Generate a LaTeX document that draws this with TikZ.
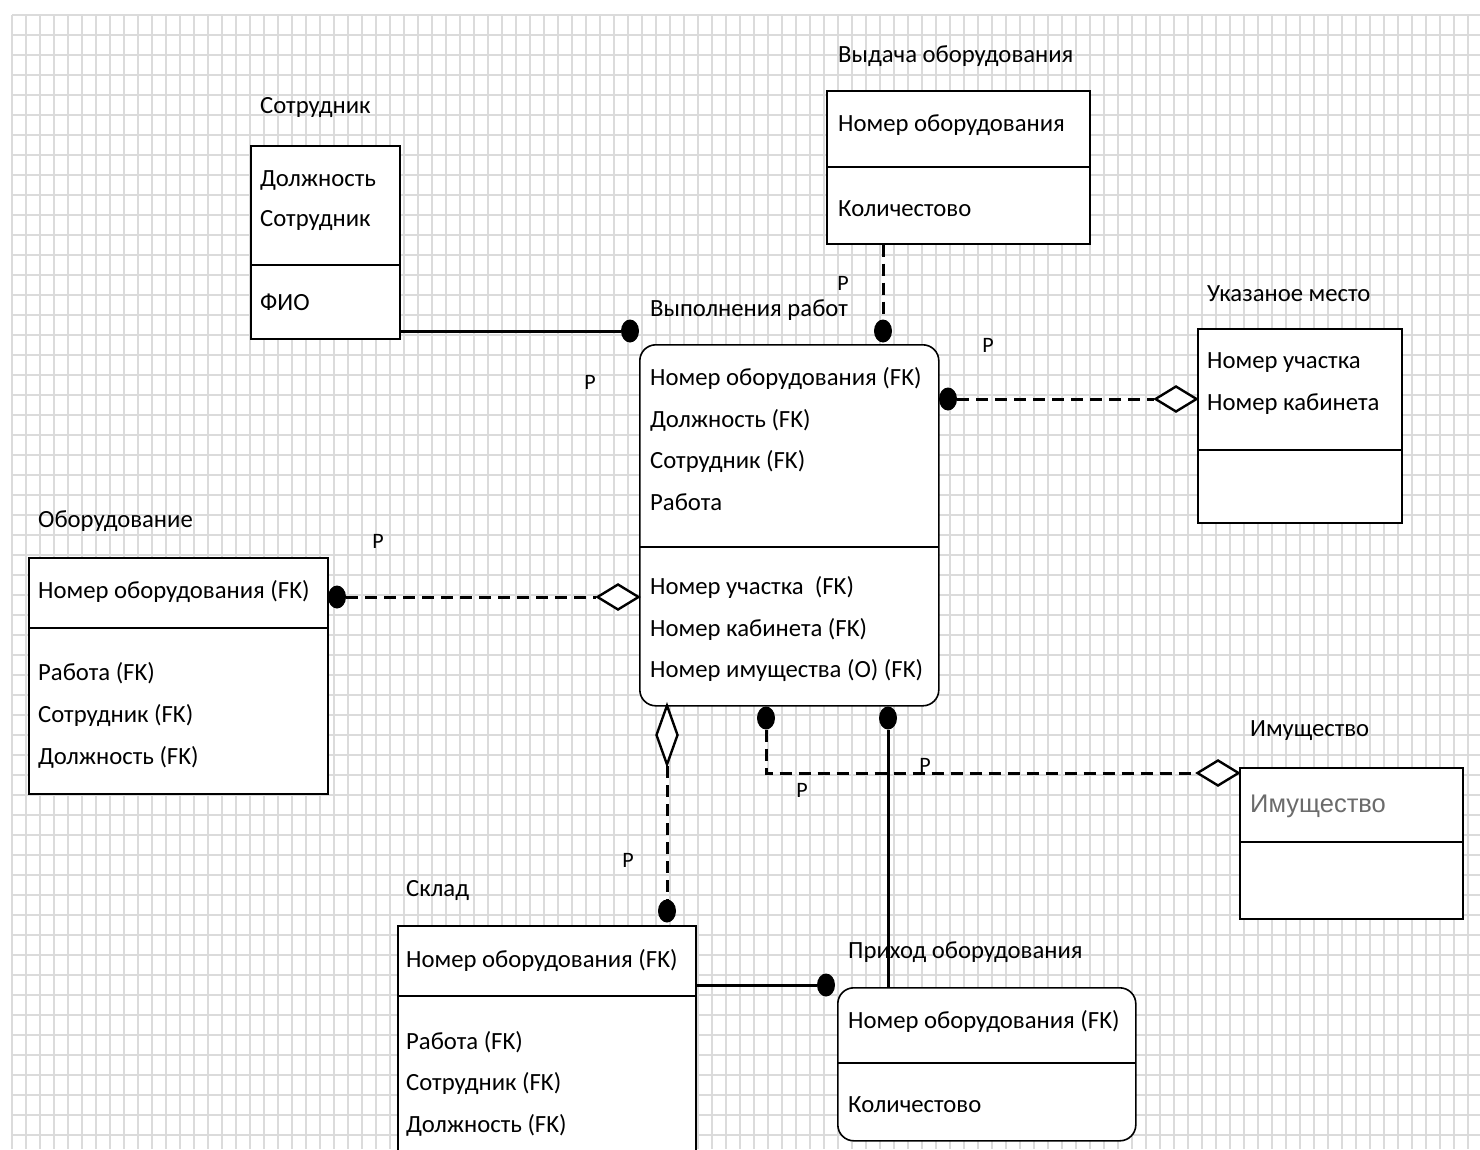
\documentclass[tikz,border=0pt]{standalone}
\usepackage{fontspec}
\setmainfont{Carlito}
\newfontfamily\arialf{Liberation Sans}
\usetikzlibrary{shapes.geometric}
\newcommand\fnt{\fontsize{24.7}{28}\selectfont}
\newcommand\pfnt{\fontsize{22}{26}\selectfont}
\begin{document}
\begin{tikzpicture}[x=1pt,y=-1pt,
 ent/.style={draw, line width=1.6pt, fill=white, inner sep=0, anchor=north west},
 rent/.style={ent, rounded corners=16pt},
 txt/.style={anchor=west, inner sep=0, font=\fnt},
 dotm/.style={ellipse, fill=black, minimum width=18pt, minimum height=23pt, inner sep=0},
 dia/.style={diamond, draw, line width=2.4pt, fill=white, minimum width=42pt, minimum height=26pt, inner sep=0},
 vdia/.style={diamond, draw, line width=2.4pt, fill=white, minimum width=22pt, minimum height=60pt, inner sep=0},
 conn/.style={line width=3pt},
 dconn/.style={line width=3pt, dash pattern=on 12pt off 7pt},
 lbl/.style={font=\pfnt, inner sep=0},
 divl/.style={line width=1.6pt},
 gridl/.style={line width=1.1pt, draw=black!14}]
\useasboundingbox (0,0) rectangle (1480,1149);
\fill[white] (0,0) rectangle (1480,1149);
% grid
\foreach \gx in {12,26,...,1480} {\draw[gridl] (\gx,15) -- (\gx,1149);}
\foreach \gy in {15,35,...,1149} {\draw[gridl] (12,\gy) -- (1480,\gy);}

% Сотрудник
\node[txt] (t1) at (260,108) {Сотрудник};
\node[ent, minimum width=149pt, minimum height=193pt] (sotr) at (250,145) {};
\draw[divl] (250,265) -- (399,265);
\node[txt] (s1) at (260,180) {Должность};
\node[txt] (s2) at (260,221) {Сотрудник};
\node[txt] (s3) at (260,302) {ФИО};

% Выдача оборудования
\node[txt] (t2) at (838,56) {Выдача оборудования};
\node[ent, minimum width=263pt, minimum height=153pt] (vyd) at (826,90) {};
\draw[divl] (826,167) -- (1089,167);
\node[txt] (v1) at (838,125) {Номер оборудования};
\node[txt] (v2) at (838,209) {Количестово};

% Выполнения работ
\node[txt] (t3) at (650,310) {Выполнения работ};
\node[rent, minimum width=299pt, minimum height=361pt] (vyp) at (639,344) {};
\draw[divl] (639,547) -- (938,547);
\node[txt] (w1) at (650,378) {Номер оборудования (FK)};
\node[txt] (w2) at (650,420) {Должность (FK)};
\node[txt] (w3) at (650,461) {Сотрудник (FK)};
\node[txt] (w4) at (650,502) {Работа};
\node[txt] (w5) at (650,587) {Номер участка\ \ (FK)};
\node[txt] (w6) at (650,629) {Номер кабинета (FK)};
\node[txt] (w7) at (650,670) {Номер имущества (O) (FK)};

% Указаное место
\node[txt] (t4) at (1207,294) {Указаное место};
\node[ent, minimum width=204pt, minimum height=194pt] (ukaz) at (1197,328) {};
\draw[divl] (1197,450) -- (1401,450);
\node[txt] (u1) at (1207,363) {Номер участка};
\node[txt] (u2) at (1207,404) {Номер кабинета};

% Оборудование
\node[txt] (t5) at (38,521) {Оборудование};
\node[ent, minimum width=299pt, minimum height=236pt] (obor) at (28,557) {};
\draw[divl] (28,628) -- (327,628);
\node[txt] (o1) at (38,591) {Номер оборудования (FK)};
\node[txt] (o2) at (38,673) {Работа (FK)};
\node[txt] (o3) at (38,715) {Сотрудник (FK)};
\node[txt] (o4) at (38,757) {Должность (FK)};

% Имущество
\node[txt] (t6) at (1250,731) {Имущество};
\node[ent, minimum width=223pt, minimum height=151pt] (imu) at (1239,767) {};
\draw[divl] (1239,842) -- (1462,842);
\node[anchor=west, inner sep=0, font=\arialf\fontsize{25.5}{28}\selectfont, text=black!58] (i1) at (1250,806) {Имущество};

% Склад
\node[txt] (t7) at (406,890) {Склад};
\node[ent, minimum width=298pt, minimum height=232pt] (sklad) at (397,925) {};
\draw[divl] (397,996) -- (695,996);
\node[txt] (k1) at (406,960) {Номер оборудования (FK)};
\node[txt] (k2) at (406,1042) {Работа (FK)};
\node[txt] (k3t) at (406,1083) {Сотрудник (FK)};
\node[txt] (k4t) at (406,1125) {Должность (FK)};

% Приход оборудования
\node[rent, minimum width=298pt, minimum height=153pt] (prih) at (837,987) {};
\draw[divl] (837,1063) -- (1135,1063);
\node[txt] (p1) at (848,1021) {Номер оборудования (FK)};
\node[txt] (p2) at (848,1105) {Количестово};
\node[txt] (t8) at (848,952) {Приход оборудования};

% connectors
\node[dotm] (d1) at (630,331) {};
\draw[conn] (sotr.east |- d1) -- (d1);

\node[dotm] (d2) at (883,331) {};
\draw[dconn] (vyd.south -| d2) -- (d2);

\node[dotm] (d3) at (948,399) {};
\node[dia] (k3) at (1176,399) {};
\draw[dconn] (d3) -- (k3.west);

\node[dotm] (d4) at (337,597) {};
\node[dia] (k4) at (618,597) {};
\draw[dconn] (d4) -- (k4.west);

\node[dotm] (d5) at (667,911) {};
\node[vdia] (k5) at (667,735) {};
\draw[dconn] (k5.south) -- (d5);

\node[dotm] (d6) at (766,718) {};
\node[dia] (k6) at (1218,773) {};
\draw[dconn] (d6) |- (k6.west);

\node[dotm] (d7) at (888,718) {};
\draw[conn] (d7) -- (d7 |- prih.north);

\node[dotm] (d8) at (826,985) {};
\draw[conn] (sklad.east |- d8) -- (d8);

% P labels
\node[lbl] (pa) at (590,382) {P};
\node[lbl] (pb) at (843,283) {P};
\node[lbl] (pc) at (988,345) {P};
\node[lbl] (pd) at (378,541) {P};
\node[lbl] (pe) at (628,860) {P};
\node[lbl] (pf) at (802,790) {P};
\node[lbl] (pg) at (925,765) {P};
\end{tikzpicture}
\end{document}
